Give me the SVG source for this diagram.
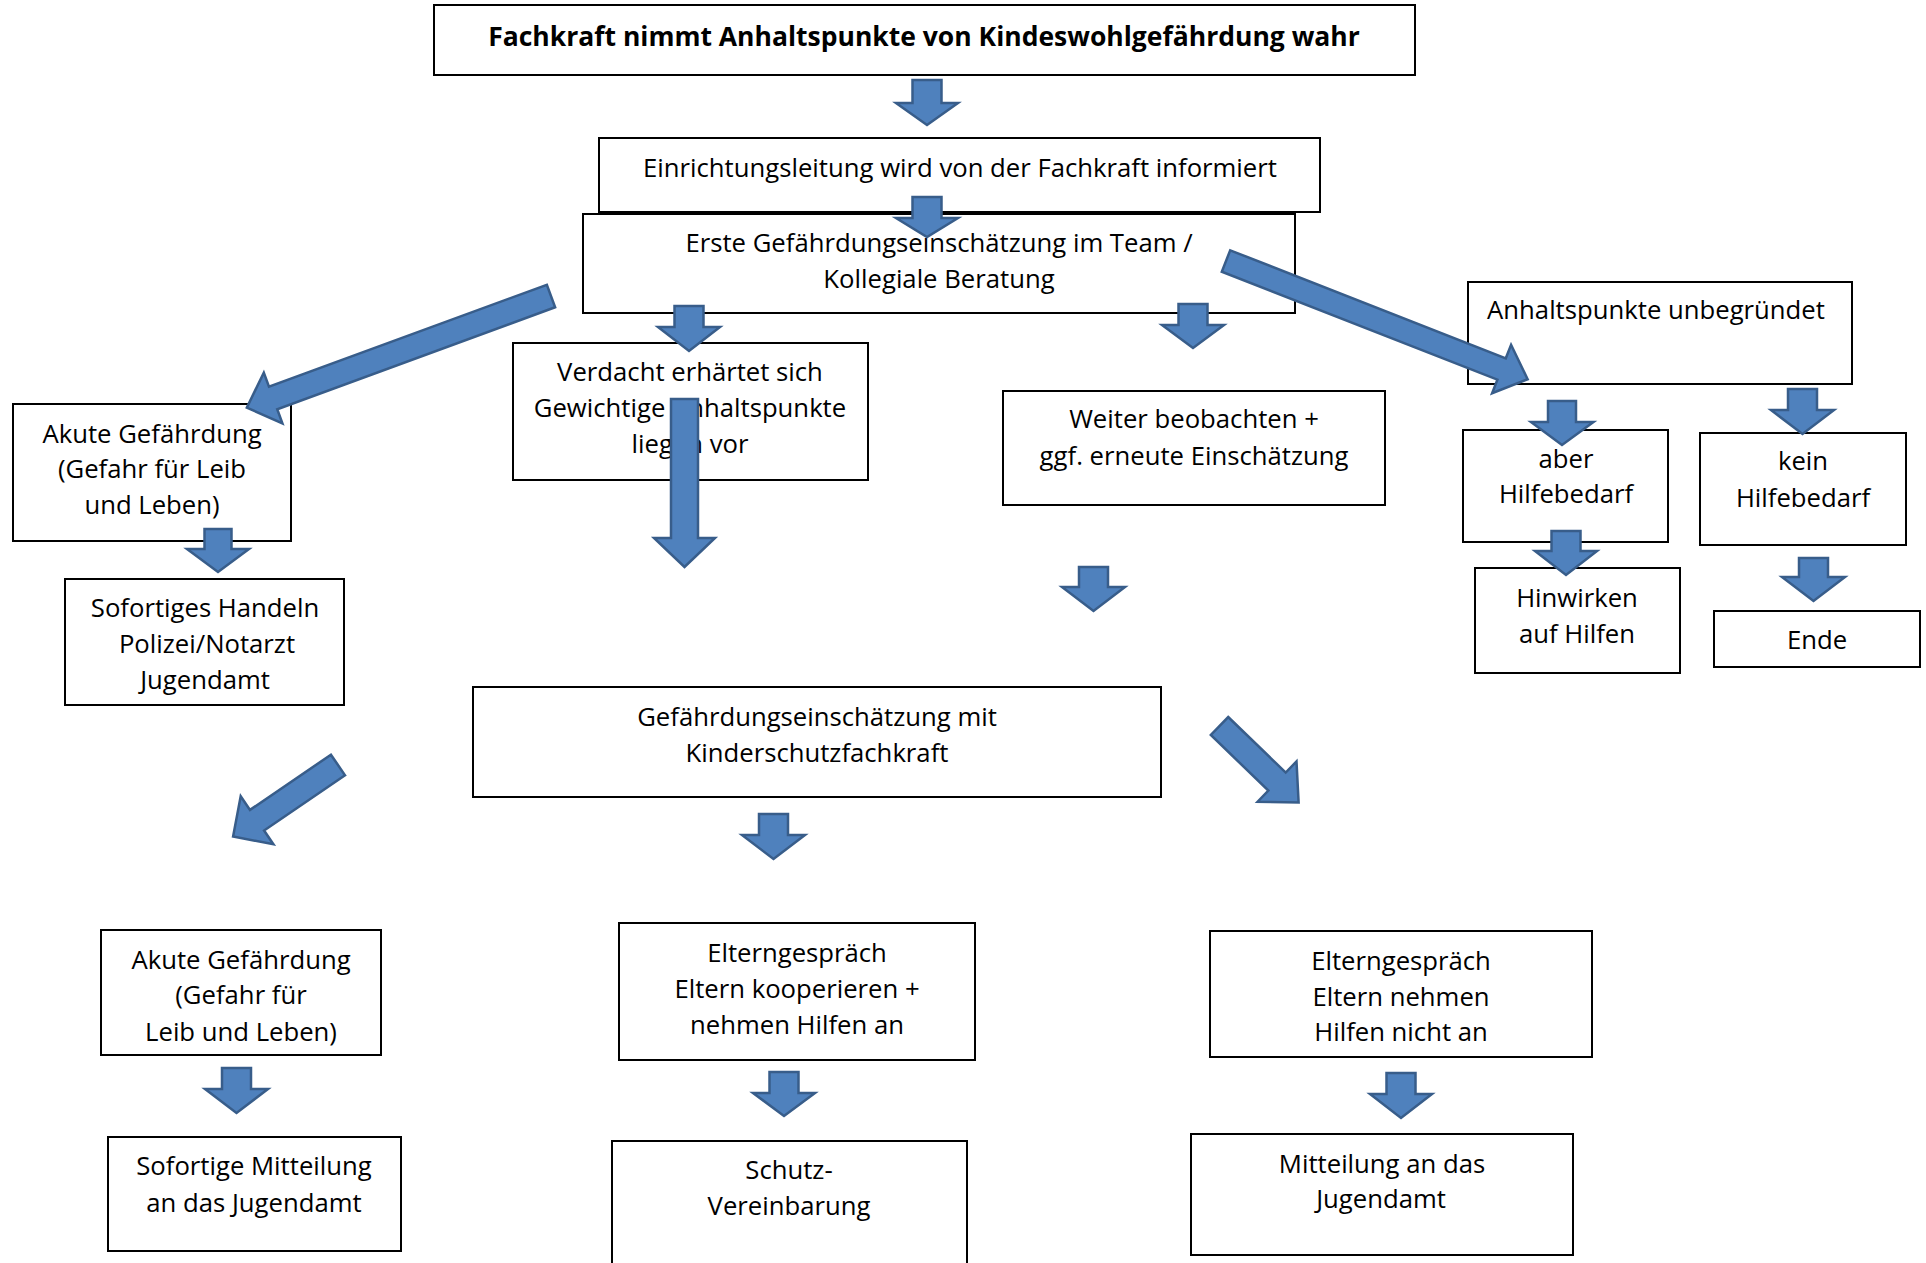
<svg xmlns="http://www.w3.org/2000/svg" width="1926" height="1263" viewBox="0 0 1926 1263">
<style>
.box{fill:#fff;stroke:#000;stroke-width:2}
.t{font-family:"Open Sans","Liberation Sans",sans-serif;font-size:25.7px;fill:#000;text-anchor:middle}
.tb{font-family:"Open Sans","Liberation Sans",sans-serif;font-size:26.5px;font-weight:bold;fill:#000;text-anchor:middle}
.arr{fill:#4F81BD;stroke:#385D8A;stroke-width:2.5;stroke-linejoin:miter}
</style>
<rect width="1926" height="1263" fill="#fff"/>
<g id="nodes">
<g id="n-title"><rect class="box" x="434" y="5" width="981" height="70"/><text class="tb" x="924" y="46">Fachkraft nimmt Anhaltspunkte von Kindeswohlgefährdung wahr</text></g>
<g id="n-einrichtung"><rect class="box" x="599" y="138" width="721" height="74"/><text class="t" x="960" y="177">Einrichtungsleitung wird von der Fachkraft informiert</text></g>
<g id="n-erste"><rect class="box" x="583" y="214" width="712" height="99"/><text class="t" x="939" y="252">Erste Gefährdungseinschätzung im Team /</text><text class="t" x="939" y="288">Kollegiale Beratung</text></g>
<g id="n-akute1"><rect class="box" x="13" y="404" width="278" height="137"/><text class="t" x="152" y="443">Akute Gefährdung</text><text class="t" x="152" y="478">(Gefahr für Leib</text><text class="t" x="152" y="514">und Leben)</text></g>
<g id="n-verdacht"><rect class="box" x="513" y="343" width="355" height="137"/><text class="t" x="690" y="381">Verdacht erhärtet sich</text><text class="t" x="690" y="417">Gewichtige Anhaltspunkte</text><text class="t" x="690" y="453">liegen vor</text></g>
<g id="n-weiter"><rect class="box" x="1003" y="391" width="382" height="114"/><text class="t" x="1194" y="428">Weiter beobachten +</text><text class="t" x="1194" y="465">ggf. erneute Einschätzung</text></g>
<g id="n-anhalt"><rect class="box" x="1468" y="282" width="384" height="102"/><text class="t" x="1656" y="319">Anhaltspunkte unbegründet</text></g>
<g id="n-aber"><rect class="box" x="1463" y="430" width="205" height="112"/><text class="t" x="1566" y="468">aber</text><text class="t" x="1566" y="503">Hilfebedarf</text></g>
<g id="n-kein"><rect class="box" x="1700" y="433" width="206" height="112"/><text class="t" x="1803" y="470">kein</text><text class="t" x="1803" y="507">Hilfebedarf</text></g>
<g id="n-sofortiges"><rect class="box" x="65" y="579" width="279" height="126"/><text class="t" x="205" y="617">Sofortiges Handeln</text><text class="t" x="207" y="653">Polizei/Notarzt</text><text class="t" x="205" y="689">Jugendamt</text></g>
<g id="n-hinwirken"><rect class="box" x="1475" y="568" width="205" height="105"/><text class="t" x="1577" y="607">Hinwirken</text><text class="t" x="1577" y="643">auf Hilfen</text></g>
<g id="n-ende"><rect class="box" x="1714" y="611" width="206" height="56"/><text class="t" x="1817" y="649">Ende</text></g>
<g id="n-gef"><rect class="box" x="473" y="687" width="688" height="110"/><text class="t" x="817" y="726">Gefährdungseinschätzung mit</text><text class="t" x="817" y="762">Kinderschutzfachkraft</text></g>
<g id="n-akute2"><rect class="box" x="101" y="930" width="280" height="125"/><text class="t" x="241" y="969">Akute Gefährdung</text><text class="t" x="241" y="1004">(Gefahr für</text><text class="t" x="241" y="1041">Leib und Leben)</text></g>
<g id="n-eltern1"><rect class="box" x="619" y="923" width="356" height="137"/><text class="t" x="797" y="962">Elterngespräch</text><text class="t" x="797" y="998">Eltern kooperieren +</text><text class="t" x="797" y="1034">nehmen Hilfen an</text></g>
<g id="n-eltern2"><rect class="box" x="1210" y="931" width="382" height="126"/><text class="t" x="1401" y="970">Elterngespräch</text><text class="t" x="1401" y="1006">Eltern nehmen</text><text class="t" x="1401" y="1041">Hilfen nicht an</text></g>
<g id="n-sofortige"><rect class="box" x="108" y="1137" width="293" height="114"/><text class="t" x="254" y="1175">Sofortige Mitteilung</text><text class="t" x="254" y="1212">an das Jugendamt</text></g>
<g id="n-schutz"><rect class="box" x="612" y="1141" width="355" height="139"/><text class="t" x="789" y="1179">Schutz-</text><text class="t" x="789" y="1215">Vereinbarung</text></g>
<g id="n-mitteilung"><rect class="box" x="1191" y="1134" width="382" height="121"/><text class="t" x="1382" y="1173">Mitteilung an das</text><text class="t" x="1381" y="1208">Jugendamt</text></g>
</g>
<g id="connectors">
<polygon class="arr" points="912.5,80 941.5,80 941.5,103 958,103 927,125 896,103 912.5,103"/>
<polygon class="arr" points="912.5,197 941.5,197 941.5,218 958,218 927,237 896,218 912.5,218"/>
<polygon class="arr" points="674.5,306 703.5,306 703.5,327 720,327 689,351 658,327 674.5,327"/>
<polygon class="arr" points="1178.5,304 1207.5,304 1207.5,325 1224,325 1193,348 1162,325 1178.5,325"/>
<polygon class="arr" points="671,399 698,399 698,538 715,538 684.5,567 654,538 671,538"/>
<polygon class="arr" points="204.5,529 231.5,529 231.5,549 249,549 218,572 187,549 204.5,549"/>
<polygon class="arr" points="1079,567 1108,567 1108,587 1125,587 1093.5,611 1062,587 1079,587"/>
<polygon class="arr" points="1548,401 1576,401 1576,422 1593.5,422 1562,445 1531,422 1548,422"/>
<polygon class="arr" points="1788,389 1817,389 1817,410 1834,410 1802.5,434 1771,410 1788,410"/>
<polygon class="arr" points="1551.5,531 1580.5,531 1580.5,551 1597,551 1566,575 1535,551 1551.5,551"/>
<polygon class="arr" points="1799,558 1828,558 1828,577 1845,577 1813.5,601 1782,577 1799,577"/>
<polygon class="arr" points="759,814 788,814 788,835 805,835 773.5,859 742,835 759,835"/>
<polygon class="arr" points="222,1068 251,1068 251,1089 268,1089 236.5,1113 205,1089 222,1089"/>
<polygon class="arr" points="769.5,1072 798.5,1072 798.5,1093 815,1093 784,1116 753,1093 769.5,1093"/>
<polygon class="arr" points="1386.5,1073 1415.5,1073 1415.5,1094 1432,1094 1401,1118 1370,1094 1386.5,1094"/>
<path class="arr" transform="translate(551,296) rotate(159.85)" d="M0,-12 H296 V-27 L324,0 L296,27 V12 H0 Z"/>
<path class="arr" transform="translate(1226,261) rotate(21.4)" d="M0,-11.5 H296 V-26 L324,0 L296,26 V11.5 H0 Z"/>
<path class="arr" transform="translate(338,765) rotate(145.7)" d="M0,-12.5 H98 V-29 L127,0 L98,29 V12.5 H0 Z"/>
<path class="arr" transform="translate(1219.5,726) rotate(44)" d="M0,-12.5 H80 V-28 L110,0 L80,28 V12.5 H0 Z"/>
</g>
</svg>
